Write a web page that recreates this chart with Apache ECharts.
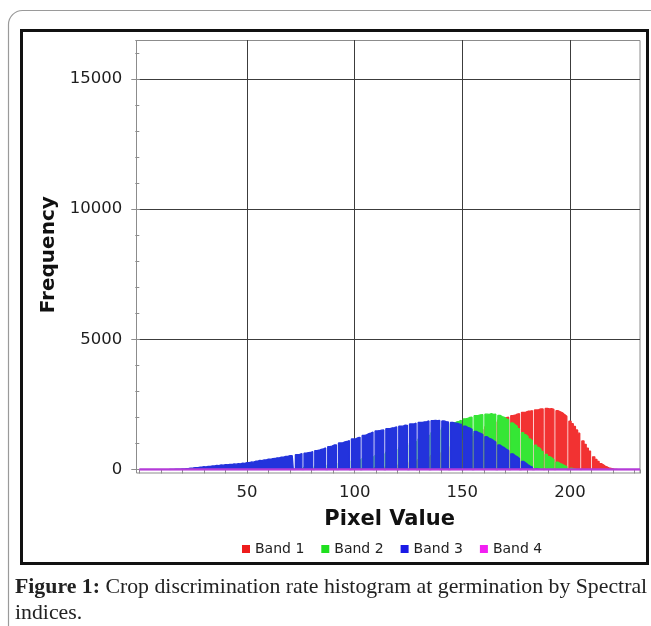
<!DOCTYPE html>
<html>
<head>
<meta charset="utf-8">
<title>Band histogram</title>
<script src="https://cdn.jsdelivr.net/npm/echarts@6.0.0/dist/echarts.min.js"></script>
<style>
    html, body { margin: 0; padding: 0; background: #fff; }
    #histMain { width: 651px; height: 626px; }
</style>
</head>
<body>
<div id="histMain"></div>
<script>
    // one value per pixel-value bin, first bin = *Start
    var bandNames = ['Band 1', 'Band 2', 'Band 3', 'Band 4'];

    var band1Start = 95;
    var band1Freq = [5, 10, 12, 0, 16, 20, 26, 30, 0, 40, 46, 50, 60, 66, 0, 80, 90, 100, 110, 0,
        130, 140, 156, 170, 180, 0, 210, 226, 246, 260, 0, 300, 320, 340, 0, 390, 410, 440, 460, 490,
        0, 550, 580, 610, 650, 0, 720, 760, 800, 0, 880, 920, 960, 1000, 1050, 0, 1140, 1190, 1240, 1290,
        0, 1390, 1440, 1490, 1540, 0, 1640, 1690, 1740, 1790, 1830, 0, 1900, 1930, 1960, 1990, 2010, 0,
        2066, 2084, 2126, 2144, 0, 2196, 2206, 2236, 2238, 2256, 0, 2286, 2296, 2326, 2322, 0, 2346, 2326,
        2334, 2306, 0, 2256, 2216, 2176, 2106, 2046, 0, 1856, 1756, 1656, 1516, 1396, 0, 1096, 966, 816,
        706, 0, 486, 386, 306, 226, 176, 116, 86, 46, 32, 14, 6, 0];

    var band2Start = 60;
    var band2Freq = [5, 6, 10, 12, 16, 20, 22, 26, 30, 36, 40, 46, 0, 56, 62, 70, 0, 86, 94, 102,
        110, 0, 130, 140, 150, 160, 172, 0, 192, 202, 216, 226, 0, 252, 266, 280, 296, 310, 0, 340,
        356, 370, 386, 0, 420, 440, 460, 480, 500, 0, 540, 560, 586, 610, 0, 660, 690, 720, 750, 780,
        0, 840, 870, 900, 940, 0, 1010, 1050, 1090, 0, 1170, 1210, 1250, 1290, 1330, 0, 1410, 1450, 1490, 1530,
        0, 1600, 1640, 1680, 0, 1760, 1786, 1830, 1846, 1890, 0, 1946, 1958, 2000, 2010, 0, 2068, 2076, 2100, 2104,
        0, 2126, 2118, 2140, 2118, 2120, 0, 2078, 2030, 2000, 1946, 1908, 0, 1786, 1716, 1656, 1566, 0, 1416, 1336,
        1268, 1176, 1106, 0, 936, 846, 776, 696, 0, 576, 496, 446, 376, 0, 276, 226, 192, 146,
        112, 0, 52, 28, 16, 4];

    var band3Start = 14;
    var band3Freq = [0, 6, 4, 10, 8, 16, 22, 20, 34, 38, 52, 58, 70, 66, 84, 88, 104, 100, 120, 116,
        135, 138, 156, 150, 172, 166, 184, 180, 196, 190, 212, 206, 222, 218, 238, 232, 258, 262, 286, 282,
        316, 318, 346, 342, 368, 366, 398, 392, 418, 420, 448, 444, 474, 470, 498, 500, 530, 528, 0, 566,
        576, 610, 0, 626, 648, 652, 690, 0, 726, 738, 772, 786, 828, 0, 878, 896, 940, 948, 0, 1020,
        1024, 1062, 1074, 1110, 0, 1170, 1176, 1220, 1236, 0, 1310, 1326, 1372, 1394, 1440, 0, 1480, 1486, 1512, 1516,
        0, 1570, 1572, 1600, 1606, 1640, 0, 1660, 1666, 1700, 1696, 0, 1750, 1746, 1780, 0, 1810, 1806, 1830, 1838,
        1862, 0, 1876, 1888, 1878, 1880, 0, 1866, 1840, 1828, 0, 1806, 1788, 1778, 1748, 1736, 0, 1668, 1622, 1588,
        1540, 0, 1466, 1418, 1386, 1338, 0, 1256, 1198, 1166, 1108, 1056, 0, 944, 878, 836, 776, 724, 0, 602,
        538, 486, 418, 0, 308, 244, 178, 132, 88, 0, 32, 14, 4];

    // band 4 is empty: flat at zero over the whole range
    var band4X = [0, 232.5];
    var band4Freq = [0, 0];

    var xTickLabels = [50, 100, 150, 200];
    var yTickLabels = [0, 5000, 10000, 15000];

    var bandFill = ['#f23232', '#35e635', '#2333dc', '#b43cd8'];
    var bandKey = ['#ee1c1c', '#1fe01f', '#1a1ae6', '#f21ff2'];

    function toBins(start, freq) {
        return freq.map(function (v, i) { return [start + i, v]; });
    }

    var font = 'DejaVu Sans';
    var chart = echarts.init(document.getElementById('histMain'));

    var bandSeries = [
        toBins(band1Start, band1Freq),
        toBins(band2Start, band2Freq),
        toBins(band3Start, band3Freq)
    ].map(function (data, i) {
        return {
            name: bandNames[i],
            type: 'line',
            step: 'middle',
            symbol: 'none',
            z: 2 + i,
            xAxisIndex: 0,
            yAxisIndex: 0,
            data: data,
            itemStyle: { color: bandKey[i] },
            lineStyle: { width: 1.4, color: bandFill[i] },
            areaStyle: { color: bandFill[i], opacity: 1 }
        };
    });

    bandSeries.push({
        name: bandNames[3],
        type: 'line',
        symbol: 'none',
        z: 6,
        xAxisIndex: 0,
        yAxisIndex: 0,
        data: band4X.map(function (x, i) { return [x, band4Freq[i]]; }),
        itemStyle: { color: bandKey[3] },
        lineStyle: { width: 2.5, color: bandFill[3] }
    });

    var plotGrid = { left: 139.3, top: 40, width: 500.7, height: 429.5, outerBoundsMode: 'none' };

    var option = {
        animation: false,
        backgroundColor: '#fff',
        grid: [plotGrid, Object.assign({}, plotGrid)],
        legend: {
            data: bandNames,
            icon: 'rect',
            itemWidth: 8,
            itemHeight: 8,
            itemGap: 17,
            left: 237,
            top: 537,
            textStyle: { fontFamily: font, fontSize: 14, color: '#222' }
        },
        xAxis: [{
            type: 'value',
            gridIndex: 0,
            min: 0,
            max: 232.5,
            interval: 50,
            offset: 3.5,
            axisLine: { show: false },
            axisTick: { show: false },
            axisLabel: {
                margin: 11,
                fontFamily: font,
                fontSize: 16.5,
                color: '#1e1e1e',
                showMinLabel: false,
                showMaxLabel: false,
                formatter: function (v) { return xTickLabels.indexOf(v) >= 0 ? String(v) : ''; }
            },
            splitLine: {
                show: true,
                showMinLine: false,
                showMaxLine: false,
                lineStyle: { color: '#3c3c3c', width: 1 }
            },
            name: 'Pixel Value',
            nameLocation: 'middle',
            nameGap: 36,
            nameTextStyle: { fontFamily: font, fontWeight: 'bold', fontSize: 21, color: '#111' }
        }, {
            // minor ticks every 10
            type: 'value',
            gridIndex: 1,
            min: 0,
            max: 232.5,
            interval: 10,
            offset: 3.5,
            axisLine: { show: false },
            axisTick: { show: true, length: 4, lineStyle: { color: '#8c8c8c' } },
            axisLabel: { show: false },
            splitLine: { show: false }
        }],
        yAxis: [{
            type: 'value',
            gridIndex: 0,
            min: 0,
            max: 16500,
            interval: 5000,
            offset: 3,
            axisLine: { show: false },
            axisTick: { show: true, length: 8, lineStyle: { color: '#8c8c8c' } },
            axisLabel: {
                margin: 14,
                fontFamily: font,
                fontSize: 16.5,
                color: '#1e1e1e',
                showMaxLabel: false,
                formatter: function (v) { return yTickLabels.indexOf(v) >= 0 ? String(v) : ''; }
            },
            splitLine: {
                show: true,
                showMinLine: false,
                showMaxLine: false,
                lineStyle: { color: '#3c3c3c', width: 1 }
            },
            name: 'Frequency',
            nameLocation: 'middle',
            nameRotate: 90,
            nameGap: 69,
            nameTextStyle: { fontFamily: font, fontWeight: 'bold', fontSize: 20, color: '#111' }
        }, {
            // minor ticks every 1000
            type: 'value',
            gridIndex: 1,
            min: 0,
            max: 16500,
            interval: 1000,
            offset: 3,
            axisLine: { show: false },
            axisTick: { show: true, length: 4, lineStyle: { color: '#8c8c8c' } },
            axisLabel: { show: false },
            splitLine: { show: false }
        }],
        graphic: [
            {
                type: 'rect',
                shape: { x: 8.5, y: 10.5, width: 700, height: 700, r: 14 },
                style: { fill: 'none', stroke: '#9a9a9a', lineWidth: 1.2 }
            },
            {
                type: 'rect',
                shape: { x: 21.5, y: 30.5, width: 626, height: 533 },
                style: { fill: 'none', stroke: '#111', lineWidth: 3 }
            },
            {
                type: 'rect',
                shape: { x: 136.5, y: 40.5, width: 503.5, height: 432.5 },
                style: { fill: 'none', stroke: '#8c8c8c', lineWidth: 1 }
            },
            {
                type: 'text',
                left: 15,
                top: 576,
                style: {
                    text: '{b|Figure 1:} Crop discrimination rate histogram at germination by Spectral',
                    font: '21.8px "Liberation Serif"',
                    fill: '#222',
                    rich: { b: { fontWeight: 'bold', fontSize: 21.8, fontFamily: 'Liberation Serif', fill: '#222' } }
                }
            },
            {
                type: 'text',
                left: 15,
                top: 602,
                style: { text: 'indices.', font: '21.8px "Liberation Serif"', fill: '#222' }
            }
        ],
        series: bandSeries
    };

    chart.setOption(option);
</script>
</body>
</html>
